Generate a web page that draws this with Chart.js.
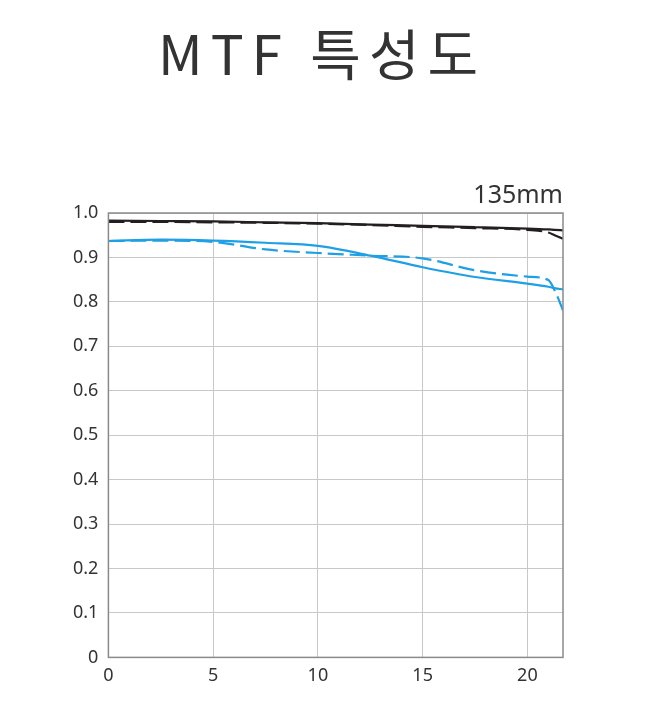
<!DOCTYPE html>
<html>
<head>
<meta charset="utf-8">
<script src="https://cdn.jsdelivr.net/npm/chart.js@4.4.1/dist/chart.umd.min.js"></script>
<style>
  html, body { margin: 0; padding: 0; background: #fff; }
  #wrap { width: 645px; height: 712px; }
</style>
</head>
<body>
<div id="wrap"><canvas id="mtf"></canvas></div>
<script>
// Image height from the centre (mm)
const fieldPos = [0, 2.5, 5, 7.5, 10, 12.5, 15, 17.5, 20, 21, 21.3, 21.7];

// MTF contrast values
const blackSolid  = [0.983, 0.982, 0.981, 0.979, 0.977, 0.974, 0.971, 0.968, 0.965, 0.963, 0.962, 0.961];
const blackDashed = [0.980, 0.980, 0.979, 0.978, 0.976, 0.973, 0.969, 0.966, 0.962, 0.956, 0.950, 0.942];
const blueSolid   = [0.937, 0.940, 0.938, 0.933, 0.926, 0.904, 0.878, 0.856, 0.841, 0.834, 0.831, 0.828];
const blueDashed  = [0.937, 0.938, 0.935, 0.918, 0.910, 0.904, 0.898, 0.871, 0.857, 0.849, 0.826, 0.781];

const xTicks = [0, 5, 10, 15, 20];
const xMax = 21.7;

const chartTitle = 'MTF 특성도';
const focalLabel = '135mm';

const BLACK = '#231f20';
const BLUE = '#1ea0e6';

function toPoints(ys) {
    return ys.map((y, i) => ({ x: fieldPos[i], y: y }));
}

function series(label, ys, color, dashed) {
    return {
        label: label,
        data: toPoints(ys),
        borderColor: color,
        borderWidth: 2.2,
        borderDash: dashed ? [16, 6] : [],
        pointRadius: 0,
        fill: false,
        cubicInterpolationMode: 'monotone'
    };
}

// box round the plot area
const framePlugin = {
    id: 'frame',
    afterDatasetsDraw(chart) {
        const { ctx, chartArea: a } = chart;
        ctx.save();
        ctx.strokeStyle = '#8a8a8a';
        ctx.lineWidth = 1.5;
        ctx.strokeRect(a.left, a.top, a.right - a.left, a.bottom - a.top);
        ctx.restore();
    }
};

// big spaced-out heading (the built-in title can't do letter spacing)
const headingPlugin = {
    id: 'heading',
    afterDraw(chart) {
        const ctx = chart.ctx;
        ctx.save();
        ctx.font = "55px 'Noto Sans CJK KR', 'Noto Sans', sans-serif";
        ctx.fillStyle = '#333';
        ctx.letterSpacing = '8px';
        ctx.textAlign = 'left';
        ctx.textBaseline = 'alphabetic';
        ctx.fillText(chartTitle, 158, 75);
        ctx.restore();
    }
};

new Chart(document.getElementById('mtf'), {
    type: 'line',
    data: {
        datasets: [
            series('S 10', blackSolid, BLACK, false),
            series('M 10', blackDashed, BLACK, true),
            series('S 30', blueSolid, BLUE, false),
            series('M 30', blueDashed, BLUE, true)
        ]
    },
    options: {
        responsive: true,
        maintainAspectRatio: false,
        animation: false,
        layout: { padding: { left: 63, right: 82, bottom: 17, top: 181 } },
        plugins: {
            legend: { display: false },
            tooltip: { enabled: false },
            title: { display: false },
            subtitle: {
                display: true,
                text: focalLabel,
                align: 'end',
                fullSize: false,
                color: '#333',
                font: { family: "'Noto Sans', sans-serif", size: 25, weight: 'normal' },
                padding: { top: 0, bottom: 2 }
            }
        },
        scales: {
            x: {
                type: 'linear',
                min: 0,
                max: xMax,
                afterBuildTicks: axis => { axis.ticks = xTicks.map(v => ({ value: v })); },
                ticks: {
                    color: '#333',
                    font: { family: "'Noto Sans', sans-serif", size: 18 },
                    padding: 8,
                    maxRotation: 0
                },
                grid: { color: '#c8c8c8', lineWidth: 1, drawTicks: false },
                border: { display: false }
            },
            y: {
                min: 0,
                max: 1,
                ticks: {
                    stepSize: 0.1,
                    color: '#333',
                    font: { family: "'Noto Sans', sans-serif", size: 18 },
                    padding: 10,
                    callback: v => v === 0 ? '0' : v.toFixed(1)
                },
                grid: { color: '#c8c8c8', lineWidth: 1, drawTicks: false },
                border: { display: false }
            }
        }
    },
    plugins: [framePlugin, headingPlugin]
});
</script>
</body>
</html>
